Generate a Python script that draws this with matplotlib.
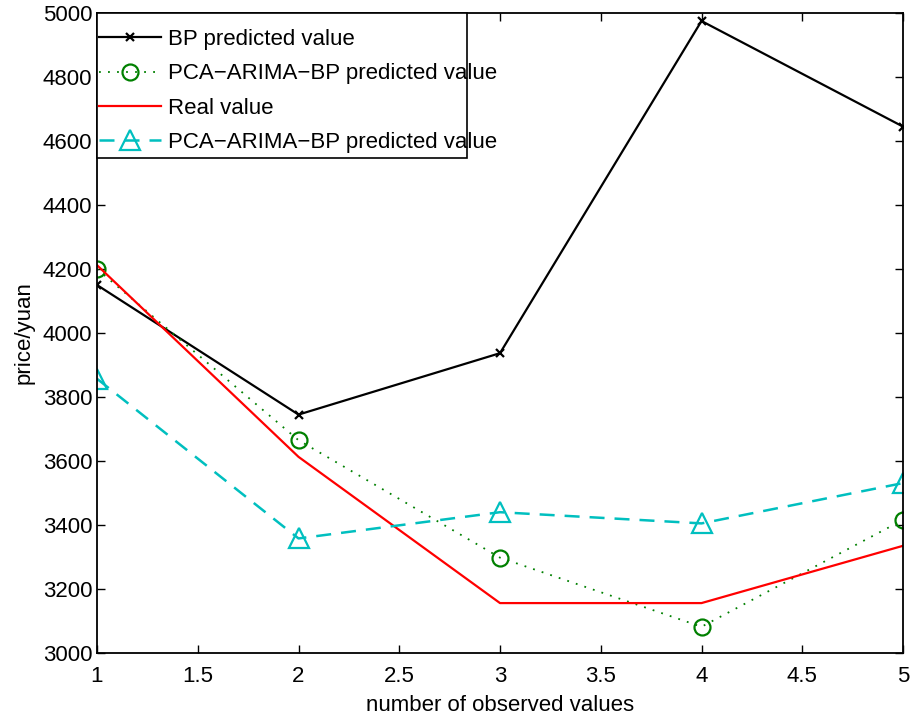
import matplotlib
matplotlib.use("Agg")
import matplotlib.pyplot as plt
from matplotlib.patches import Rectangle

x = [1, 2, 3, 4, 5]
bp = [4150, 3745, 3937, 4975, 4645]
pca_green = [4200, 3665, 3298, 3082, 3416]
real = [4212, 3613, 3156, 3156, 3335]
pca_cyan = [3857, 3358, 3440, 3405, 3531]

labels = ["BP predicted value", "PCA\u2212ARIMA\u2212BP predicted value",
          "Real value", "PCA\u2212ARIMA\u2212BP predicted value"]
xticks = [1, 1.5, 2, 2.5, 3, 3.5, 4, 4.5, 5]
xticklabels = ["1", "1.5", "2", "2.5", "3", "3.5", "4", "4.5", "5"]
yticks = list(range(3000, 5001, 200))

plt.rcParams['font.family'] = ['Liberation Sans', 'DejaVu Sans']

W, H = 916, 717
fig = plt.figure(figsize=(W/100, H/100), dpi=100)
ax = fig.add_axes([97/W, 1 - 653/H, (903-97)/W, (653-13)/H])

ax.plot(x, bp, color='black', lw=1.6, marker='x', ms=6, mew=1.6, label=labels[0])
ax.plot(x, pca_green, color=(0, 0.5, 0), lw=1.3, ls=(0, (1, 4)), marker='o', ms=11.5,
        mfc='none', mew=1.6, label=labels[1])
ax.plot(x, real, color='red', lw=1.6, label=labels[2])
ax.plot(x, pca_cyan, color=(0, 0.75, 0.75), lw=1.8, ls=(0, (6, 4)), marker='^', ms=14,
        mfc='none', mew=1.6, label=labels[3])

ax.set_xlim(1, 5)
ax.set_ylim(3000, 5000)
ax.set_xticks(xticks)
ax.set_xticklabels(xticklabels)
ax.set_yticks(yticks)
ax.tick_params(direction='in', top=True, right=True, labelsize=16, length=6, width=1)
ax.tick_params(axis='x', pad=9)
for s in ax.spines.values():
    s.set_linewidth(1.3)
ax.set_xlabel("number of observed values", fontsize=16, labelpad=6)
ax.set_ylabel("price/yuan", fontsize=16, labelpad=6)

# legend frame (MATLAB style box)
frame = Rectangle((97/W, 1 - 158/H), (467-97)/W, (158-13)/H, transform=fig.transFigure,
                  facecolor='white', edgecolor='black', lw=1.2, zorder=4, clip_on=False)
ax.add_patch(frame)
leg = ax.legend(loc='upper left', bbox_to_anchor=(99/W, 1 - 29/H),
                bbox_transform=fig.transFigure, borderaxespad=0, borderpad=0,
                fontsize=16, frameon=False, handlelength=2.8, handletextpad=0.3,
                labelspacing=0.6)
leg.set_zorder(6)

fig.savefig("out.png", dpi=100)
